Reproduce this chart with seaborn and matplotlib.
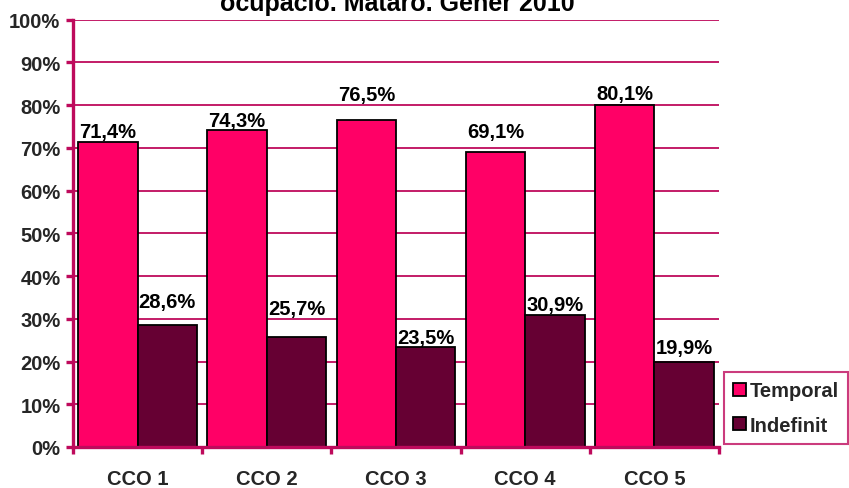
import matplotlib
matplotlib.use("Agg")
import matplotlib.pyplot as plt
import seaborn as sns
import pandas as pd
from matplotlib.ticker import FixedLocator, FuncFormatter

# Contract type share by occupation group (CCO), Mataró, January 2010
categories = ["CCO 1", "CCO 2", "CCO 3", "CCO 4", "CCO 5"]
temporal = [71.4, 74.3, 76.5, 69.1, 80.1]
indefinit = [28.6, 25.7, 23.5, 30.9, 19.9]
series_names = ["Temporal", "Indefinit"]
title_text = "ocupació. Mataró. Gener 2010"

# distance (pixels) from each bar top to the centre of its value label
temporal_label_offsets = [10, 9, 26, 20, 11]
indefinit_label_offsets = [23, 29, 9, 10, 14]

df = pd.DataFrame({
    "cco": categories * 2,
    "value": temporal + indefinit,
    "tipus": [series_names[0]] * len(categories) + [series_names[1]] * len(categories),
})

sns.set_theme(style="white")
plt.rcParams["font.family"] = ["Liberation Sans", "DejaVu Sans"]
plt.rcParams["font.weight"] = "bold"

FS = 14.5
accent = "#BE0A5C"
palette = {"Temporal": "#FF0066", "Indefinit": "#660033"}

fig = plt.figure(figsize=(8.49, 4.89), dpi=100)
ax = fig.add_axes([73 / 849, 1 - 448 / 489, (719 - 73) / 849, (448 - 20.7) / 489])

sns.barplot(data=df, x="cco", y="value", hue="tipus", palette=palette,
            width=0.92, edgecolor="black", linewidth=1.3, saturation=1,
            ax=ax, legend=True)

ax.set_xlim(-0.5, len(categories) - 0.5)
ax.set_ylim(0, 100)
ax.set_xlabel("")
ax.set_ylabel("")

# horizontal gridlines
ax.yaxis.set_major_locator(FixedLocator(range(0, 101, 10)))
ax.yaxis.set_major_formatter(FuncFormatter(lambda v, p: f"{int(v)}%"))
ax.grid(axis="y", color=accent, linewidth=1.3)
ax.set_axisbelow(True)

for side in ["top", "right"]:
    ax.spines[side].set_visible(False)
for side in ["left", "bottom"]:
    ax.spines[side].set_color(accent)
    ax.spines[side].set_linewidth(2.4)

ax.tick_params(axis="y", which="major", direction="out", length=5, width=2.4,
               color=accent, labelsize=FS, pad=4, left=True)
ax.tick_params(axis="x", which="major", length=0, labelsize=FS, pad=16)
ax.xaxis.set_minor_locator(FixedLocator([i - 0.5 for i in range(len(categories) + 1)]))
ax.tick_params(axis="x", which="minor", direction="out", length=5, width=2.4,
               color=accent, bottom=True)
for lbl in ax.get_xticklabels() + ax.get_yticklabels():
    lbl.set_fontweight("bold")

# value labels
offsets = [temporal_label_offsets, indefinit_label_offsets]
for container, offs in zip(ax.containers, offsets):
    for bar, off in zip(container, offs):
        h = bar.get_height()
        ax.annotate(f"{h:.1f}%".replace(".", ","),
                    (bar.get_x() + bar.get_width() / 2, h),
                    xytext=(0, off * 0.72), textcoords="offset points",
                    ha="center", va="center", fontsize=FS, fontweight="bold",
                    color="black", annotation_clip=False)

# legend in a framed box at the right
handles, labels = ax.get_legend_handles_labels()
ax.get_legend().remove()
leg = fig.legend(handles, labels, loc="center",
                 bbox_to_anchor=(724 / 849, 1 - 445 / 489, 124 / 849, 72 / 489),
                 prop={"size": FS, "weight": "bold"}, frameon=True,
                 fancybox=False, handlelength=0.65, handleheight=0.65,
                 handletextpad=0.2, labelspacing=0.75, borderpad=0.45,
                 borderaxespad=0)
leg.get_frame().set_edgecolor(accent)
leg.get_frame().set_linewidth(1.5)
for h in leg.legend_handles:
    h.set_edgecolor("black")
    h.set_linewidth(1.3)

# title, whose upper part runs off the top edge
fig.text(397 / 849, 1 - 11 / 489, title_text, ha="center", va="baseline",
         fontsize=18, fontweight="bold", color="black")

fig.savefig("out.png", dpi=100, facecolor="white")
